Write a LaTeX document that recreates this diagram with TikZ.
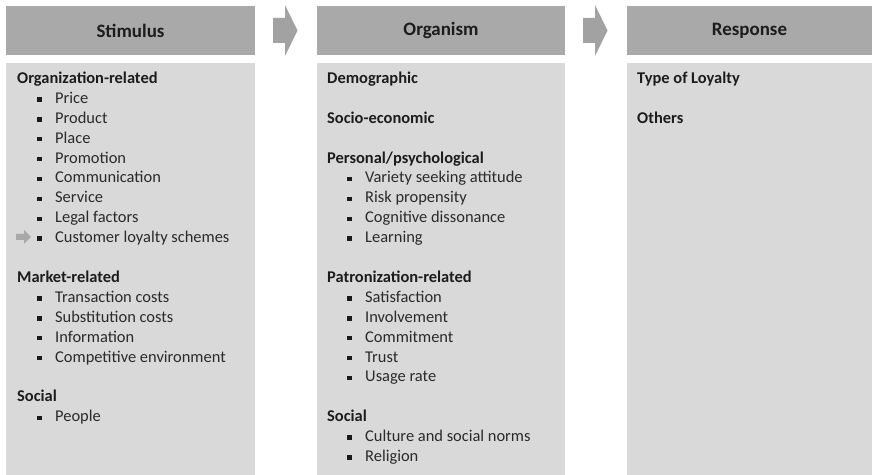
\documentclass[tikz,border=0pt]{standalone}
\usepackage{fontspec}
\setmainfont{Carlito}
\definecolor{hdrgray}{HTML}{A9A9A9}
\definecolor{panelgray}{HTML}{D9D9D9}
\definecolor{arrowgray}{HTML}{A2A2A2}
\definecolor{smallarrow}{HTML}{A8A8A8}
\definecolor{headcol}{HTML}{1C1C1C}
\definecolor{itemcol}{HTML}{2A2A2A}
\definecolor{bulcol}{HTML}{1A1A1A}
\tikzset{
  hdr/.style={fill=hdrgray, inner sep=0pt, minimum height=49bp, text=headcol,
    font=\fontsize{19}{22}\selectfont\bfseries},
  panel/.style={fill=panelgray, inner sep=0pt, anchor=north west, minimum height=412bp},
  grouptxt/.style={anchor=base west, inner sep=0pt, text=headcol,
    font=\fontsize{16.5}{19}\selectfont\bfseries},
  itemtxt/.style={anchor=base west, inner sep=0pt, text=itemcol,
    font=\fontsize{16.5}{19}\selectfont},
  bul/.style={fill=bulcol, inner sep=0pt, minimum size=4.5bp},
  flowarrow/.style={fill=arrowgray},
}
\newcommand{\ly}[1]{78+19.9*(#1)+5.5}
\begin{document}
\begin{tikzpicture}[x=1bp,y=-1bp]
\useasboundingbox (0,0) rectangle (873,475);
\fill[white] (0,0) rectangle (873,475);

% headers
\node[hdr, minimum width=249bp] (hS) at (130.5,30.5) {Stimulus};
\node[hdr, minimum width=248bp] (hO) at (441,30.5) {Organism};
\node[hdr, minimum width=245bp] (hR) at (749.5,30.5) {Response};

% panels
\node[panel, minimum width=249bp] (pS) at (6,63) {};
\node[panel, minimum width=248bp] (pO) at (317,63) {};
\node[panel, minimum width=245bp] (pR) at (627,63) {};

% flow arrows between headers
\fill[flowarrow] (273,18) -- (285,18) -- (285,5) -- (297.5,30.5) -- (285,56) -- (285,43) -- (273,43) -- cycle;
\fill[flowarrow] (583,18) -- (595,18) -- (595,5) -- (607.5,30.5) -- (595,56) -- (595,43) -- (583,43) -- cycle;

% ---------- Stimulus ----------
\node[grouptxt] (s-org) at (17,{\ly{0}}) {Organization-related};
\foreach \t [count=\i] in {Price,Product,Place,Promotion,Communication,Service,Legal factors,Customer loyalty schemes}{
  \node[itemtxt] (s-org-\i) at (55,{\ly{\i}}) {\t};
  \node[bul] (s-org-b\i) at (39.5,{\ly{\i}-4}) {};
}
\fill[smallarrow] (16,234) -- (24,234) -- (24,230) -- (31,237) -- (24,244) -- (24,240) -- (16,240) -- cycle;

\node[grouptxt] (s-mkt) at (17,{\ly{10}}) {Market-related};
\foreach \t [count=\i] in {Transaction costs,Substitution costs,Information,Competitive environment}{
  \node[itemtxt] (s-mkt-\i) at (55,{\ly{10+\i}}) {\t};
  \node[bul] (s-mkt-b\i) at (39.5,{\ly{10+\i}-4}) {};
}
\node[grouptxt] (s-soc) at (17,{\ly{16}}) {Social};
\node[itemtxt] (s-soc-1) at (55,{\ly{17}}) {People};
\node[bul] (s-soc-b1) at (39.5,{\ly{17}-4}) {};

% ---------- Organism ----------
\node[grouptxt] (o-dem) at (327,{\ly{0}}) {Demographic};
\node[grouptxt] (o-soe) at (327,{\ly{2}}) {Socio-economic};
\node[grouptxt] (o-per) at (327,{\ly{4}}) {Personal/psychological};
\foreach \t [count=\i] in {Variety seeking attitude,Risk propensity,Cognitive dissonance,Learning}{
  \node[itemtxt] (o-per-\i) at (365,{\ly{4+\i}}) {\t};
  \node[bul] (o-per-b\i) at (349.5,{\ly{4+\i}-4}) {};
}
\node[grouptxt] (o-pat) at (327,{\ly{10}}) {Patronization-related};
\foreach \t [count=\i] in {Satisfaction,Involvement,Commitment,Trust,Usage rate}{
  \node[itemtxt] (o-pat-\i) at (365,{\ly{10+\i}}) {\t};
  \node[bul] (o-pat-b\i) at (349.5,{\ly{10+\i}-4}) {};
}
\node[grouptxt] (o-soc) at (327,{\ly{17}}) {Social};
\foreach \t [count=\i] in {Culture and social norms,Religion}{
  \node[itemtxt] (o-soc-\i) at (365,{\ly{17+\i}}) {\t};
  \node[bul] (o-soc-b\i) at (349.5,{\ly{17+\i}-4}) {};
}

% ---------- Response ----------
\node[grouptxt] (r-typ) at (637,{\ly{0}}) {Type of Loyalty};
\node[grouptxt] (r-oth) at (637,{\ly{2}}) {Others};
\end{tikzpicture}
\end{document}
